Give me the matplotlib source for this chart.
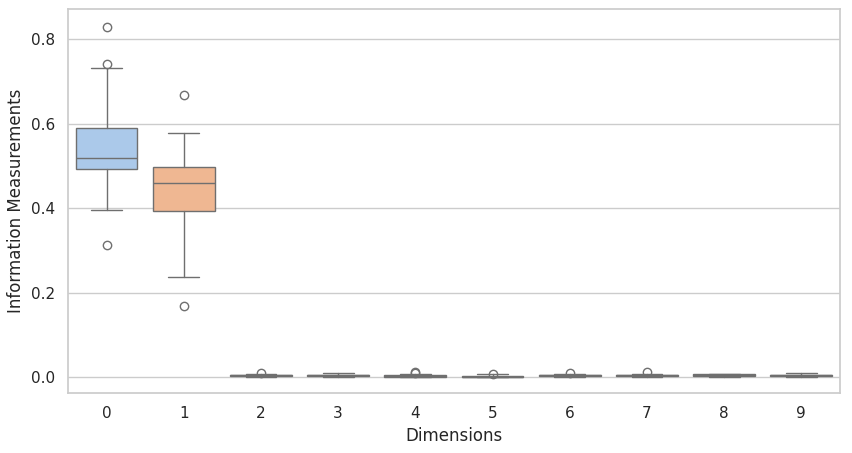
import matplotlib
matplotlib.use("Agg")
import matplotlib.pyplot as plt
import seaborn as sns

# 各次元の箱ひげ図の統計値
dims = [0, 1, 2, 3, 4, 5, 6, 7, 8, 9]
q1 = [0.492, 0.393, 0.002, 0.002, 0.0005, 0.0, 0.002, 0.002, 0.002, 0.002]
med = [0.518, 0.459, 0.004, 0.004, 0.002, 0.0015, 0.004, 0.004, 0.004, 0.004]
q3 = [0.589, 0.497, 0.006, 0.006, 0.004, 0.003, 0.006, 0.006, 0.007, 0.006]
whislo = [0.395, 0.237, 0.0005, 0.0, 0.0, 0.0, 0.0, 0.0005, 0.0005, 0.0]
whishi = [0.731, 0.577, 0.0075, 0.0095, 0.007, 0.007, 0.007, 0.007, 0.0075, 0.0095]
fliers = [
    [0.828, 0.741, 0.312],
    [0.667, 0.168],
    [0.009],
    [],
    [0.009, 0.011],
    [0.008],
    [0.009],
    [0.011],
    [],
    [],
]

sns.set_theme(style="whitegrid")
# seabornと同じく彩度を0.75に落とす
colors = [sns.desaturate(c, 0.75) for c in sns.color_palette("pastel", len(dims))]
line_color = "#6f6f6f"

stats = []
for i in range(len(dims)):
    stats.append({
        "med": med[i], "q1": q1[i], "q3": q3[i],
        "whislo": whislo[i], "whishi": whishi[i], "fliers": fliers[i],
    })

fig = plt.figure(figsize=(8.53, 4.53), dpi=100)
ax = fig.add_axes([0.0797, 0.132, 0.905, 0.848])

lw = 1.0
bp = ax.bxp(
    stats, positions=dims, widths=0.8, capwidths=0.4, patch_artist=True,
    boxprops=dict(edgecolor=line_color, linewidth=lw),
    whiskerprops=dict(color=line_color, linewidth=lw),
    capprops=dict(color=line_color, linewidth=lw),
    medianprops=dict(color=line_color, linewidth=lw),
    flierprops=dict(marker="o", markersize=6, markerfacecolor="none",
                    markeredgecolor=line_color, markeredgewidth=lw),
)
for patch, c in zip(bp["boxes"], colors):
    patch.set_facecolor(c)

ax.set_xlim(-0.5, 9.5)
ax.set_ylim(-0.038, 0.871)
ax.set_xticks(dims)
ax.set_xticklabels([str(d) for d in dims])
ax.set_yticks([0.0, 0.2, 0.4, 0.6, 0.8])
ax.xaxis.grid(False)
ax.set_xlabel("Dimensions")
ax.set_ylabel("Information Measurements")

fig.savefig("out.png", dpi=100)
